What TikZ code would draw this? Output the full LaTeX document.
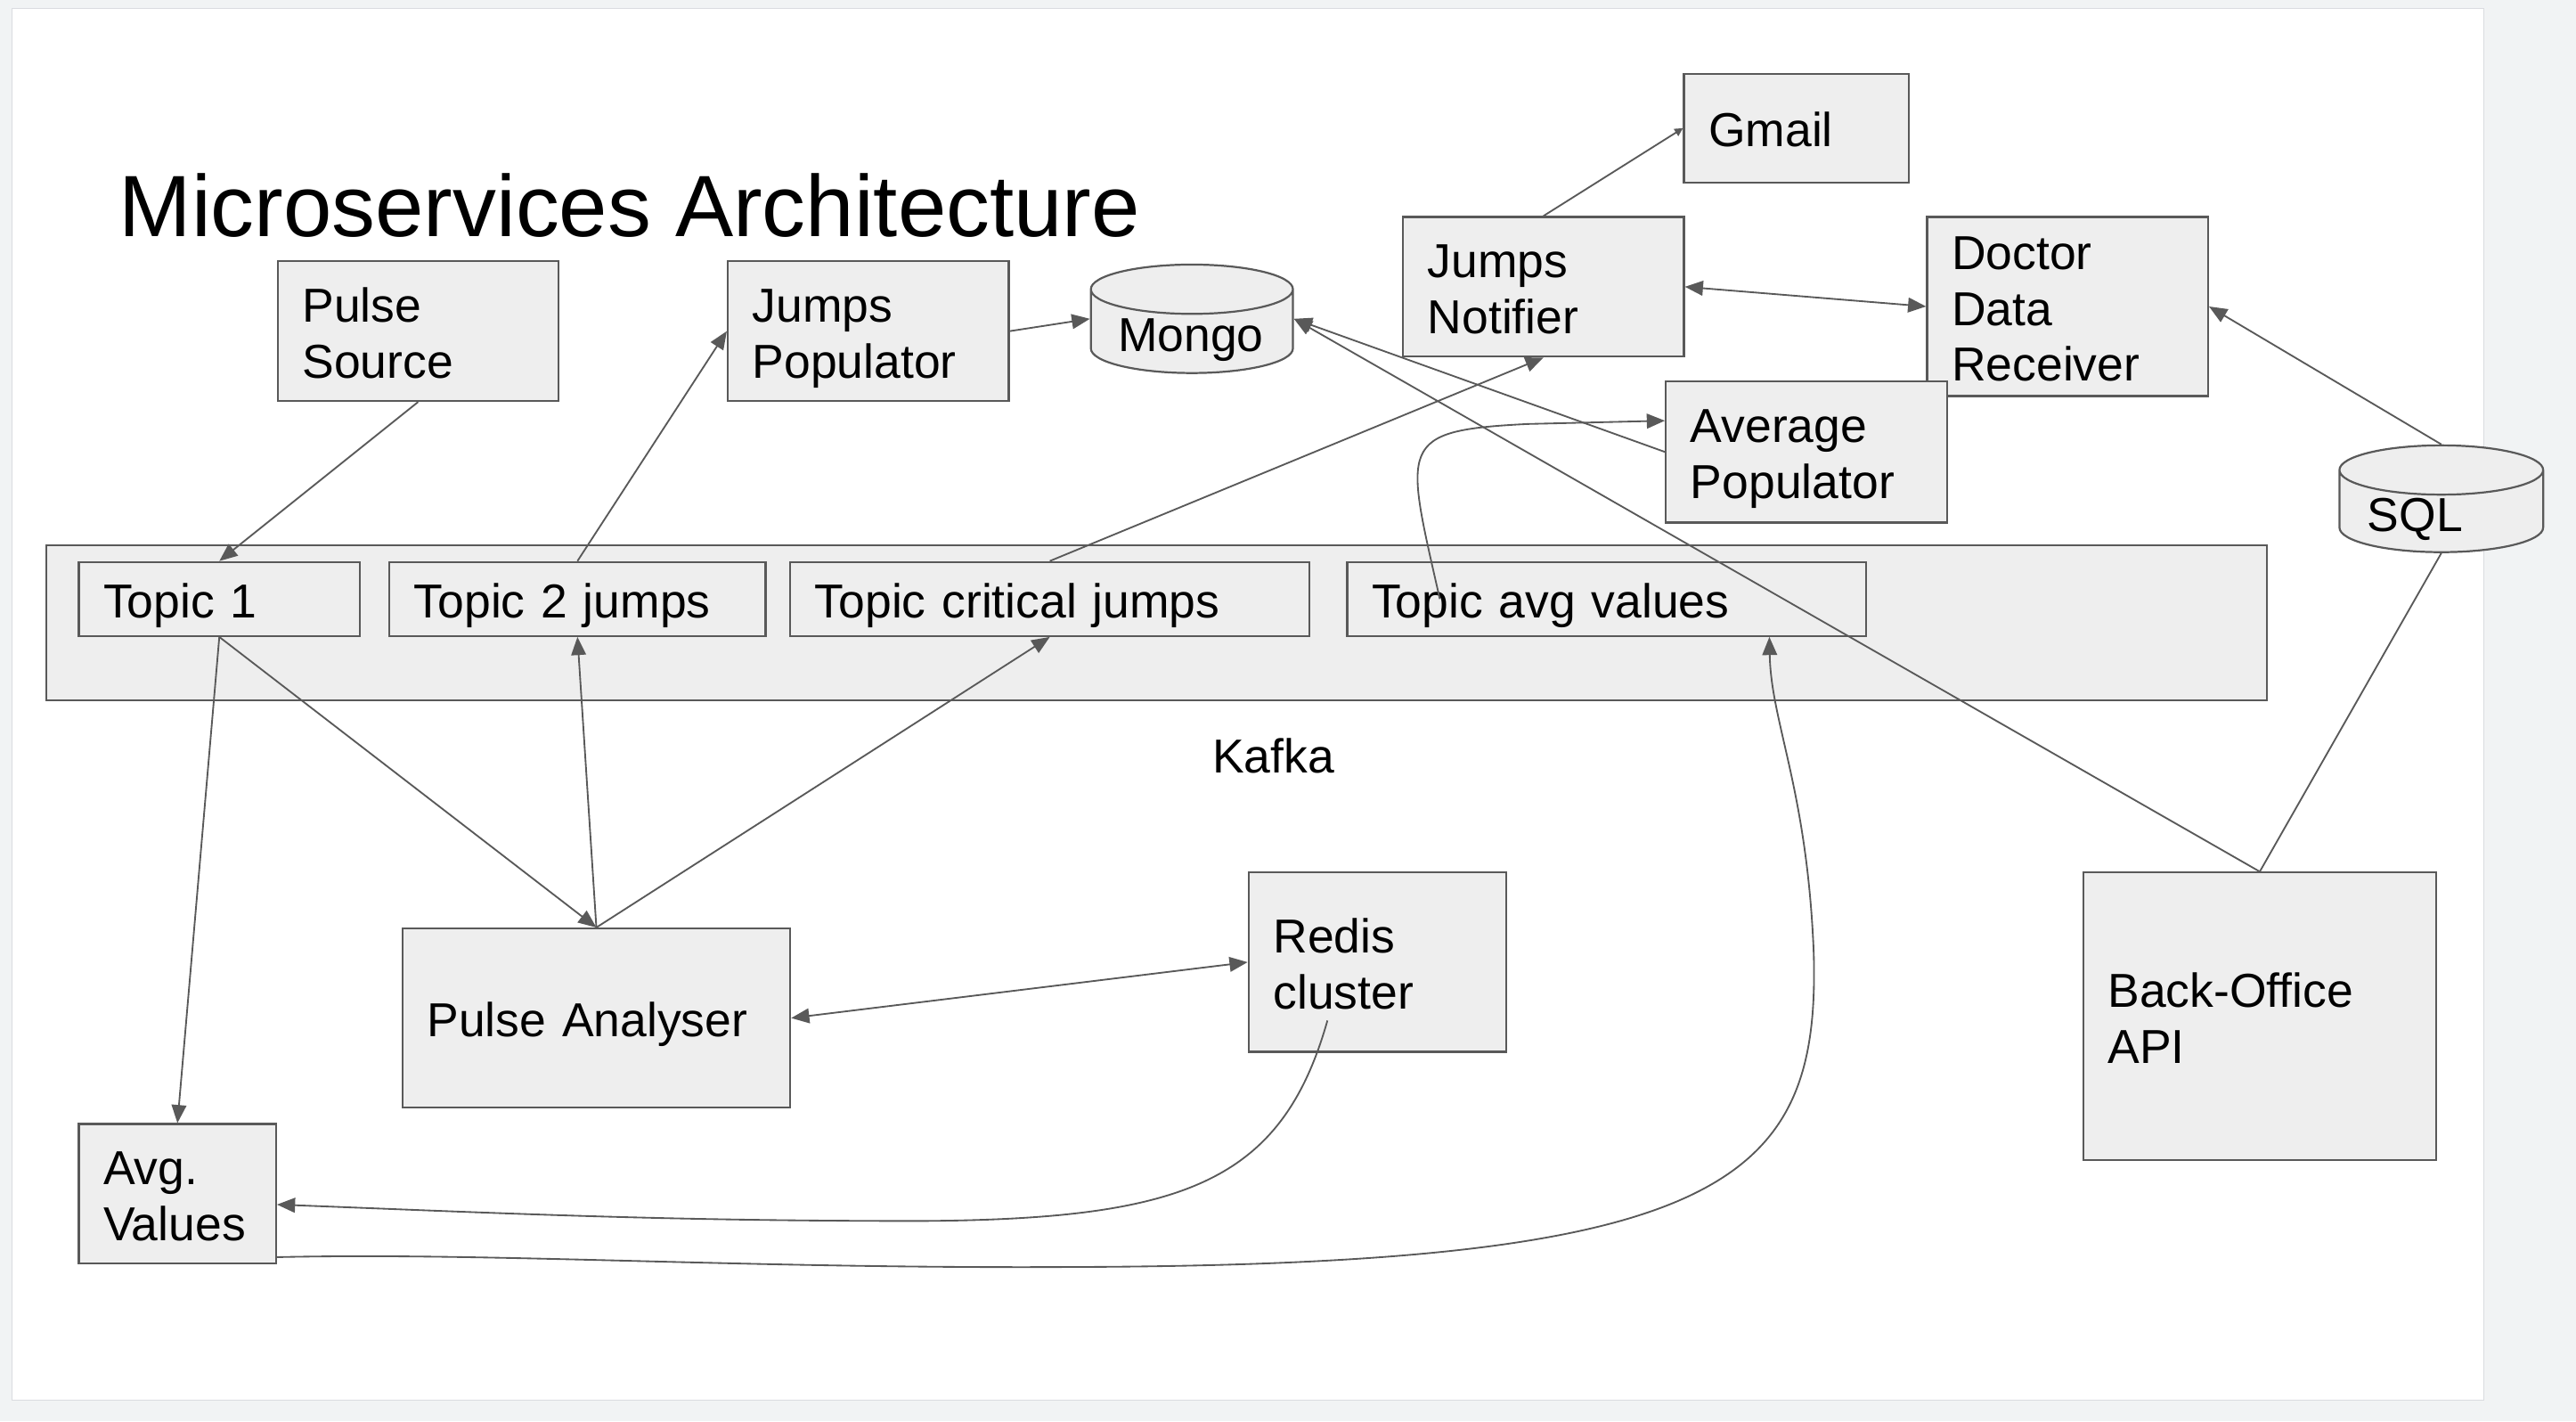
\documentclass[tikz,border=0pt]{standalone}
\usepackage{fontspec}
\setmainfont{Liberation Sans}
\usetikzlibrary{arrows.meta,shapes.geometric,calc}

\definecolor{linegray}{HTML}{595959}
\definecolor{boxgray}{HTML}{EEEEEE}
\definecolor{pagegray}{HTML}{F1F3F4}
\definecolor{pageedge}{HTML}{DADCE0}

\newcommand\topstrut{\rule{0pt}{1em}}
\newcommand\botstrut{\rule[-0.212em]{0pt}{0.212em}}

\tikzset{
  boxfont/.style={font=\fontsize{29}{34}\selectfont},
  svc/.style={draw=linegray, fill=boxgray, line width=1.2pt, align=left,
    inner xsep=15pt, inner ysep=0pt, boxfont,
    execute at begin node=\topstrut, execute at end node=\botstrut},
  db/.style={cylinder, shape border rotate=90, aspect=0.3, draw=linegray,
    fill=boxgray, line width=1.2pt, align=left, inner xsep=5pt, inner ysep=0pt,
    anchor=shape center, boxfont, text height=19pt, text depth=1pt},
  conn/.style={draw=linegray, line width=1pt},
  >={Triangle[length=11pt,width=9pt]},
}

\begin{document}
\begin{tikzpicture}[x=1pt,y=1pt,yscale=-1,xscale=1]
\useasboundingbox (0,0) rectangle (1568,865);
\fill[pagegray] (0,0) rectangle (1568,865);
\draw[pageedge, fill=white] (7,5) rectangle (1512,852);

% Text Node
\node[anchor=base west, font=\fontsize{53}{60}\selectfont] (title) at (69,144) {Microservices Architecture};

%Shape: Rectangle
\node[svc, text width=1322pt, minimum height=94pt] (kafka) at (704,379) {};
\node[boxfont] (kafkalbl) at (775,460) {Kafka};
%Shape: Rectangle
\node[svc, text width=141pt, minimum height=45pt] (t1) at (133.5,364.5) {Topic 1};
\node[svc, text width=199pt, minimum height=45pt] (t2) at (351.5,364.5) {Topic 2 jumps};
\node[svc, text width=286pt, minimum height=45pt] (tcj) at (639,364.5) {Topic critical jumps};
\node[svc, text width=286pt, minimum height=45pt] (tav) at (978,364.5) {Topic avg values};

%Shape: Rectangle
\node[svc, text width=141pt, minimum height=85pt] (ps) at (254.5,201.5) {Pulse\\Source};
\node[svc, text width=141pt, minimum height=85pt] (jp) at (528.5,201.5) {Jumps\\Populator};
\node[svc, text width=141pt, minimum height=85pt] (jn) at (939.5,174.5) {Jumps\\Notifier};
\node[svc, text width=107pt, minimum height=66pt] (gmail) at (1093.5,78) {Gmail};
\node[svc, text width=141pt, minimum height=109pt] (ddr) at (1258.5,186.5) {Doctor\\Data\\Receiver};
\node[svc, text width=141pt, minimum height=86pt] (ap) at (1099.5,275) {Average\\Populator};
\node[svc, text width=206pt, minimum height=109pt] (pa) at (363,619.5) {Pulse Analyser};
\node[svc, text width=127pt, minimum height=109pt] (rc) at (838.5,585.5) {Redis\\cluster};
\node[svc, text width=185pt, minimum height=175pt] (bo) at (1375.5,618.5) {Back-Office\\API};
\node[svc, text width=90pt, minimum height=85pt] (av) at (108,726.5) {Avg.\\Values};

%Shape: Can
\node[db, text width=90pt, minimum width=123pt, minimum height=66pt] (mongo) at (725.5,194) {Mongo};
\node[db, text width=90pt, minimum width=124pt, minimum height=65pt] (sql) at (1486,303.5) {SQL};

%Straight Lines
\draw[conn,->] (ps.south) -- (t1.north);
\draw[conn,->] (t2.north) -- (jp.west);
\draw[conn,->] (jp.east) -- (mongo.shape center -| mongo.west);
\draw[conn,->] (tcj.north) -- (jn.south);
\draw[conn,-{Triangle[length=5pt,width=5pt]}] (jn.north) -- (gmail.west);
\draw[conn,<->] (jn.east) -- (ddr.west);
\draw[conn,->] (ap.west) -- (mongo.shape center -| mongo.east);
\draw[conn,->] (bo.north) -- (mongo.shape center -| mongo.east);
\draw[conn,->] (sql.north) -- (ddr.east);
\draw[conn] (sql.south) -- (bo.north);
\draw[conn,->] (t1.south) -- (av.north);
\draw[conn,->] (t1.south) -- (pa.north);
\draw[conn,->] (pa.north) -- (t2.south);
\draw[conn,->] (pa.north) -- (tcj.south);
\draw[conn,<->] (pa.east) -- (rc.west);

%Curve Lines
\draw[conn,->] ($(tav.west)+(57,0)$) .. controls (855,270) and (850,262) .. (930,258) -- ($(ap.west)+(0,-19)$);
\draw[conn,->] ($(rc.center)+(-30.5,35.5)$) .. controls (780,720) and (720,742) .. (560,743)
  .. controls (400,743) and (300,738) .. ($(av.east)+(0,6.5)$);
\draw[conn,->] ($(av.east)+(0,38.5)$) .. controls (300,762) and (450,772) .. (650,771)
  .. controls (1050,770) and (1108,720) .. (1104,580)
  .. controls (1100,480) and (1078,440) .. ($(tav.south)+(99,0)$);
\end{tikzpicture}
\end{document}
